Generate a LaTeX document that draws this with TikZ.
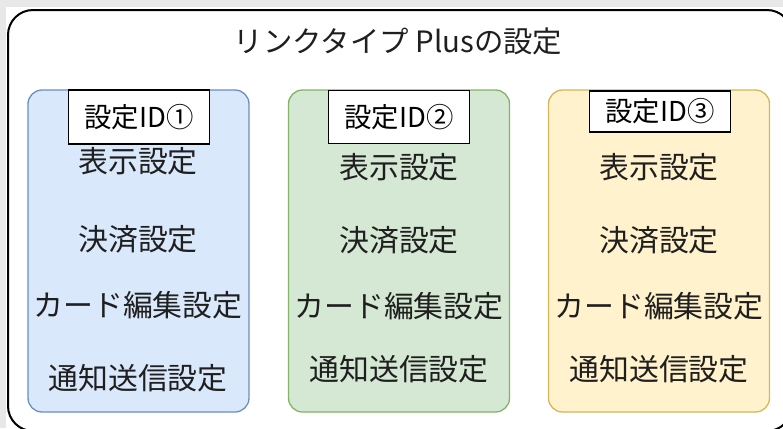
\documentclass[tikz,border=0pt]{standalone}
\usepackage{fontspec}
\setmainfont{Noto Sans CJK JP}
\usepackage{tikz}
\usetikzlibrary{positioning}
\definecolor{blueFill}{HTML}{DAE8FC}
\definecolor{blueLine}{HTML}{6C8EBF}
\definecolor{greenFill}{HTML}{D5E8D4}
\definecolor{greenLine}{HTML}{82B366}
\definecolor{yellowFill}{HTML}{FFF2CC}
\definecolor{yellowLine}{HTML}{D6B656}

\begin{document}
\begin{tikzpicture}[x=1bp, y=-1bp,
  panel/.style={draw, line width=1.3bp, rounded corners=14bp, minimum width=221bp, minimum height=322bp},
  idbox/.style={draw, fill=white, line width=1.3bp, minimum width=141bp, inner sep=0pt, font=\fontsize{27.5}{31}\selectfont},
  item/.style={inner sep=0pt, font=\fontsize{30}{35}\selectfont, text=black!88}]
\useasboundingbox (0,0) rectangle (783,428);
\fill[gray!18] (0,0) rectangle (783,7);
\fill[gray!18] (0,0) rectangle (6,428);
\draw[line width=2bp, rounded corners=25bp] (8,10) rectangle (792,431);

\node[item, font=\fontsize{29.5}{34}\selectfont] (title) at (398,41) {リンクタイプ Plusの設定};

\node[panel, fill=blueFill, draw=blueLine] (P1) at (138.5,251) {};
\node[panel, fill=greenFill, draw=greenLine] (P2) at (399,251) {};
\node[panel, fill=yellowFill, draw=yellowLine] (P3) at (659,251) {};

\node[idbox, minimum height=54bp] (ID1) at (139,117) {設定ID①};
\node[idbox, minimum height=53bp] (ID2) at (399,117) {設定ID②};
\node[idbox, minimum height=41bp] (ID3) at (660,111.5) {設定ID③};

\node[item] (disp1) at (138,161) {表示設定};
\node[item] (pay1) at (138,239) {決済設定};
\node[item] (card1) at (138,305) {カード編集設定};
\node[item] (notify1) at (138,378) {通知送信設定};

\node[item] (disp2) at (399,167) {表示設定};
\node[item] (pay2) at (399,240) {決済設定};
\node[item] (card2) at (399,306) {カード編集設定};
\node[item] (notify2) at (399,369) {通知送信設定};

\node[item] (disp3) at (659,167) {表示設定};
\node[item] (pay3) at (659,240) {決済設定};
\node[item] (card3) at (659,306) {カード編集設定};
\node[item] (notify3) at (659,369) {通知送信設定};
\end{tikzpicture}
\end{document}
